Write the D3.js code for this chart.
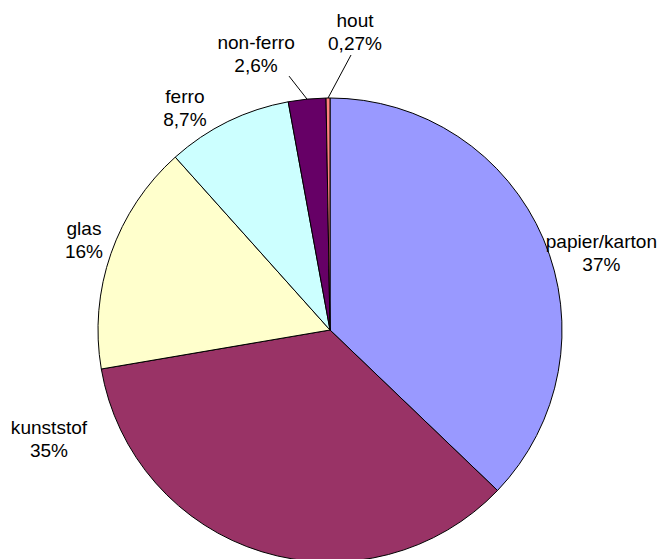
<!DOCTYPE html>
<html>
<head>
<meta charset="utf-8">
<script src="https://cdn.jsdelivr.net/npm/d3@7"></script>
<style>
  html, body { margin: 0; padding: 0; background: #fff; }
  svg { display: block; }
</style>
</head>
<body>
<svg id="chart" width="662" height="559"></svg>
<script>
// Samenstelling verpakkingsafval per materiaal
const categories = ["papier/karton", "kunststof", "glas", "ferro", "non-ferro", "hout"];
const values = [37, 35, 16, 8.7, 2.6, 0.27];
const valueLabels = ["37%", "35%", "16%", "8,7%", "2,6%", "0,27%"];

const colors = ["#9999FF", "#993366", "#FFFFCC", "#CCFFFF", "#660066", "#FF8080"];

// label placement relative to the slice's outer edge point (dx, dy of first baseline)
const labelLayout = {
  "papier/karton": { dx: 58, dy: 9 },
  "kunststof": { dx: -213, dy: -118 },
  "glas": { dx: -27, dy: -19 },
  "ferro": { dx: -43, dy: -19 },
  "non-ferro": { dx: -51, dy: -50, leader: [-18, -23] },
  "hout": { dx: 27, dy: -71, leader: [23, -43] }
};

const svg = d3.select("#chart");
const cx = 330, cy = 330, r = 232;

const data = categories.map((c, i) => ({ name: c, value: values[i], label: valueLabels[i], color: colors[i] }));

const pie = d3.pie().sort(null).value(d => d.value).startAngle(0).endAngle(2 * Math.PI);
const arcs = pie(data);
const arc = d3.arc().innerRadius(0).outerRadius(r);

const g = svg.append("g").attr("transform", `translate(${cx},${cy})`);

g.selectAll("path.slice")
  .data(arcs)
  .enter().append("path")
  .attr("class", "slice")
  .attr("d", arc)
  .attr("fill", d => d.data.color)
  .attr("stroke", "#000")
  .attr("stroke-width", 1)
  .attr("stroke-linejoin", "round");

function edgePoint(d) {
  const a = (d.startAngle + d.endAngle) / 2;
  return [r * Math.sin(a), -r * Math.cos(a)];
}

// leader lines for the thin slices
arcs.forEach(d => {
  const lay = labelLayout[d.data.name];
  if (!lay.leader) return;
  const [ex, ey] = edgePoint(d);
  g.append("line")
    .attr("x1", ex).attr("y1", ey)
    .attr("x2", ex + lay.leader[0]).attr("y2", ey + lay.leader[1])
    .attr("stroke", "#000")
    .attr("stroke-width", 1);
});

const labels = g.selectAll("text.label")
  .data(arcs)
  .enter().append("text")
  .attr("class", "label")
  .attr("text-anchor", "middle")
  .attr("font-family", "Liberation Sans, Arial, sans-serif")
  .attr("font-size", 18)
  .attr("fill", "#000")
  .attr("transform", d => {
    const [ex, ey] = edgePoint(d);
    const lay = labelLayout[d.data.name];
    return `translate(${ex + lay.dx},${ey + lay.dy}) scale(1.06,1)`;
  });

labels.append("tspan").attr("x", 0).attr("y", 0).text(d => d.data.name);
labels.append("tspan").attr("x", 0).attr("y", 23).text(d => d.data.label);
</script>
</body>
</html>
